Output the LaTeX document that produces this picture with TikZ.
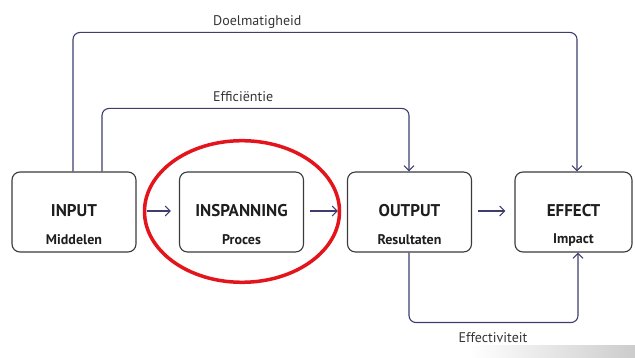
\documentclass[tikz,border=0pt]{standalone}
\usepackage{fontspec}
\setmainfont{PT Sans}
\usetikzlibrary{arrows.meta}
\definecolor{conn}{HTML}{3E3D6E}
\definecolor{boxline}{HTML}{3A3A3A}
\definecolor{circ}{HTML}{E3141B}
\definecolor{txt}{HTML}{1E1E1E}
\begin{document}
\begin{tikzpicture}[x=1pt,y=-1pt,
  box/.style={draw=boxline, line width=1.1pt, rounded corners=8pt, minimum width=124pt, minimum height=80pt, inner sep=0pt},
  ttl/.style={font=\fontsize{17}{17}\selectfont\bfseries, text=txt, inner sep=0pt},
  sub/.style={font=\fontsize{14}{14}\selectfont\bfseries, text=txt, inner sep=0pt},
  lbl/.style={font=\fontsize{14}{14}\selectfont, text=txt!90, inner sep=0pt},
  conn/.style={draw=conn, line width=1.1pt, rounded corners=7pt},
  tip/.style={-{Straight Barb[length=5pt,width=10pt,line width=1.1pt]}}]
\useasboundingbox (0,0) rectangle (635,358);
\shade[left color=white, right color=black!20] (470,345) rectangle (635,358);

\node[box] (in) at (74,212) {};
\node[box] (insp) at (241.5,212) {};
\node[box] (out) at (409.5,212) {};
\node[box, minimum width=117pt] (eff) at (573.5,212) {};

\node[ttl] (inT) at (74,211) {INPUT};
\node[sub] (inS) at (74,240) {Middelen};
\node[ttl] (inspT) at (241.5,211) {INSPANNING};
\node[sub] (inspS) at (241.5,240) {Proces};
\node[ttl] (outT) at (409.5,211) {OUTPUT};
\node[sub] (outS) at (409.5,240) {Resultaten};
\node[ttl] (effT) at (573.5,211) {EFFECT};
\node[sub] (effS) at (573.5,240) {Impact};

\draw[conn,tip] ([xshift=10pt,yshift=1pt]in.east) -- ([xshift=-8pt,yshift=1pt]insp.west);
\draw[conn,tip] ([xshift=6pt,yshift=1pt]insp.east) -- ([xshift=-9pt,yshift=1pt]out.west);
\draw[conn,tip] ([xshift=6pt,yshift=1pt]out.east) -- ([xshift=-9pt,yshift=1pt]eff.west);

\draw[conn,tip] ([xshift=-1pt]in.north) -- ++(0,-139) -| ([xshift=3.5pt]eff.north);
\draw[conn,tip] ([xshift=28pt]in.north) -- ++(0,-63) -| ([xshift=-0.5pt]out.north);
\draw[conn,tip] ([xshift=-0.5pt]out.south) -- ++(0,70) -| ([xshift=4.5pt]eff.south);

\node[lbl, anchor=west] (doel) at (213,22) {Doelmatigheid};
\node[lbl, anchor=west] (effi) at (213,97) {Efficiëntie};
\node[lbl] (effe) at (493,338) {Effectiviteit};

\draw[circ, line width=3.5pt] (242,211.5) ellipse [x radius=97.5, y radius=70.8];
\end{tikzpicture}
\end{document}
